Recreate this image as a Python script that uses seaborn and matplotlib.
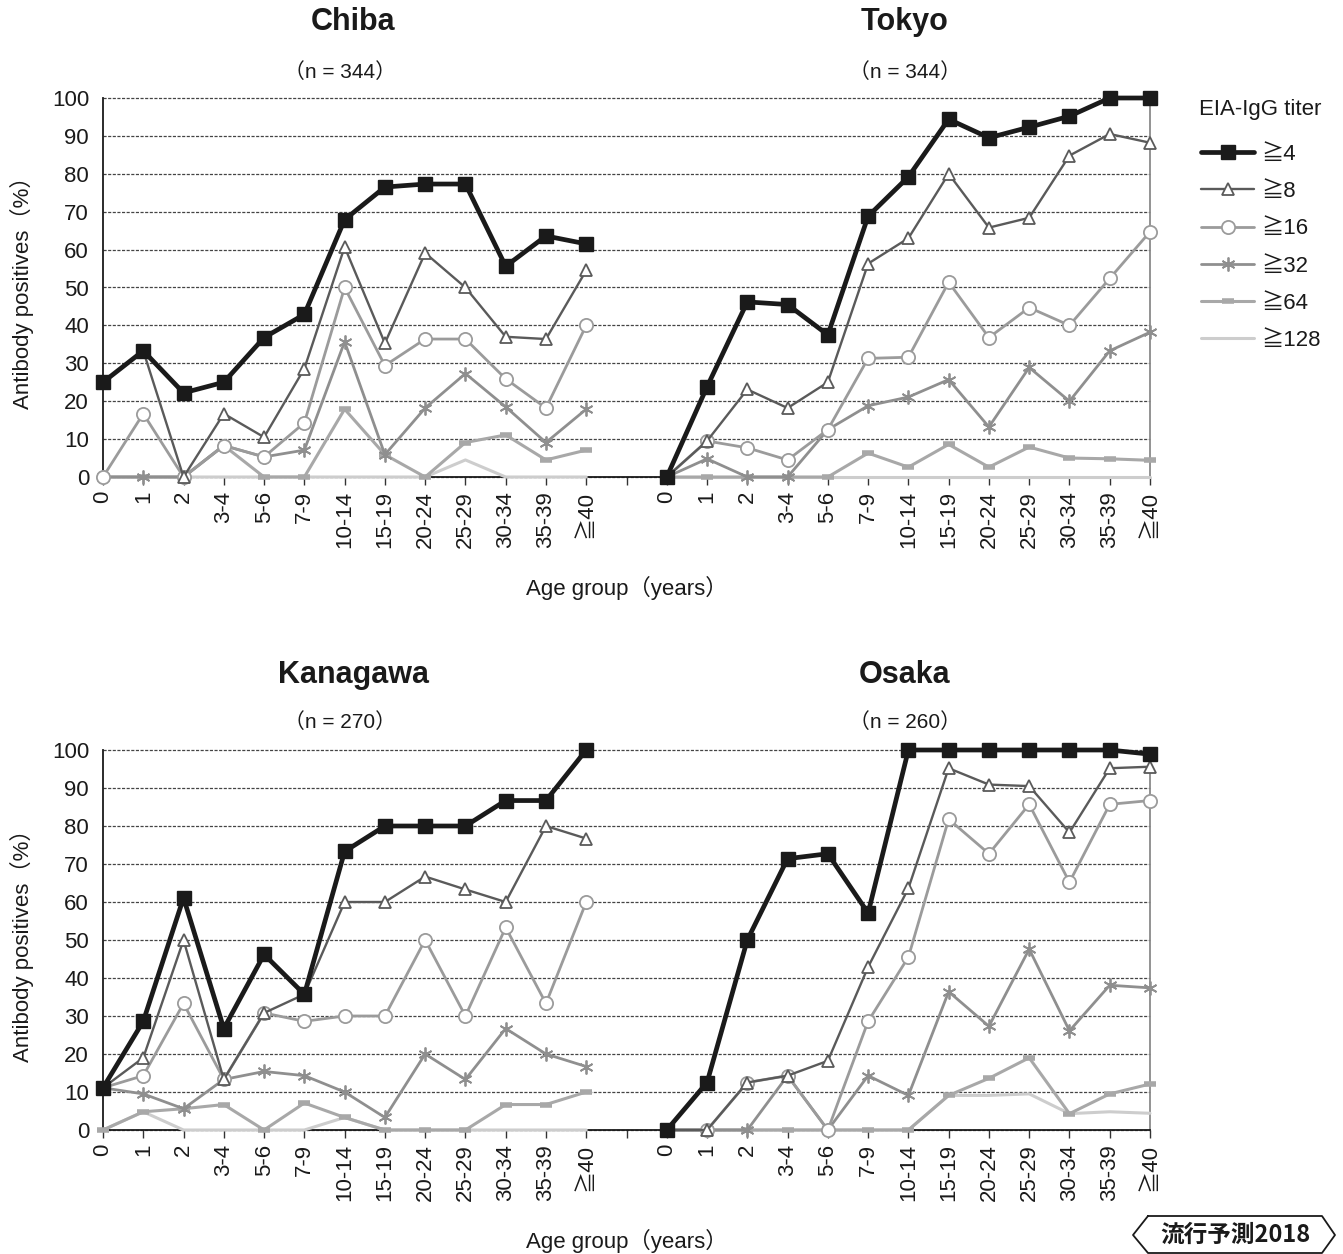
import matplotlib
matplotlib.use("Agg")
import matplotlib.pyplot as plt
import seaborn as sns
import numpy as np
import pandas as pd
from matplotlib.lines import Line2D

# ---------------- data ----------------
age_groups = ['0', '1', '2', '3-4', '5-6', '7-9', '10-14', '15-19',
              '20-24', '25-29', '30-34', '35-39', '≧40']
titers = ['≧4', '≧8', '≧16', '≧32', '≧64', '≧128']

chiba_4 = [25.0, 33.3, 22.2, 25.0, 36.8, 42.9, 67.9, 76.5, 77.3, 77.3, 55.6, 63.6, 61.5]
chiba_8 = [25.0, 33.3, 0.0, 16.7, 10.5, 28.6, 60.7, 35.3, 59.1, 50.0, 37.0, 36.4, 54.5]
chiba_16 = [0.0, 16.7, 0.0, 8.3, 5.3, 14.3, 50.0, 29.4, 36.4, 36.4, 25.9, 18.2, 40.0]
chiba_32 = [0.0, 0.0, 0.0, 8.3, 5.3, 7.1, 35.7, 5.9, 18.2, 27.3, 18.5, 9.1, 17.9]
chiba_64 = [0.0, 0.0, 0.0, 8.3, 0.0, 0.0, 17.9, 5.9, 0.0, 9.1, 11.1, 4.5, 7.1]
chiba_128 = [0.0, 0.0, 0.0, 0.0, 0.0, 0.0, 0.0, 0.0, 0.0, 4.5, 0.0, 0.0, 0.0]

tokyo_4 = [0.0, 23.8, 46.2, 45.5, 37.5, 68.8, 79.2, 94.4, 89.5, 92.3, 95.2, 100.0, 100.0]
tokyo_8 = [0.0, 9.5, 23.1, 18.2, 25.0, 56.3, 63.0, 80.0, 65.8, 68.4, 84.8, 90.5, 88.2]
tokyo_16 = [0.0, 9.5, 7.7, 4.5, 12.5, 31.3, 31.6, 51.4, 36.8, 44.7, 40.0, 52.4, 64.7]
tokyo_32 = [0.0, 4.8, 0.0, 0.0, 12.5, 18.8, 21.1, 25.7, 13.2, 28.9, 20.0, 33.3, 38.2]
tokyo_64 = [0.0, 0.0, 0.0, 0.0, 0.0, 6.3, 2.6, 8.6, 2.6, 7.9, 5.0, 4.8, 4.4]
tokyo_128 = [0.0, 0.0, 0.0, 0.0, 0.0, 0.0, 0.0, 0.0, 0.0, 0.0, 0.0, 0.0, 0.0]

kanagawa_4 = [11.1, 28.6, 61.1, 26.7, 46.2, 35.7, 73.3, 80.0, 80.0, 80.0, 86.7, 86.7, 100.0]
kanagawa_8 = [11.1, 19.0, 50.0, 13.3, 30.8, 35.7, 60.0, 60.0, 66.7, 63.3, 60.0, 80.0, 76.7]
kanagawa_16 = [11.1, 14.3, 33.3, 13.3, 30.8, 28.6, 30.0, 30.0, 50.0, 30.0, 53.3, 33.3, 60.0]
kanagawa_32 = [11.1, 9.5, 5.6, 13.3, 15.4, 14.3, 10.0, 3.3, 20.0, 13.3, 26.7, 20.0, 16.7]
kanagawa_64 = [0.0, 4.8, 5.6, 6.7, 0.0, 7.1, 3.3, 0.0, 0.0, 0.0, 6.7, 6.7, 10.0]
kanagawa_128 = [0.0, 4.8, 0.0, 0.0, 0.0, 0.0, 3.3, 0.0, 0.0, 0.0, 0.0, 0.0, 0.0]

osaka_4 = [0.0, 12.5, 50.0, 71.4, 72.7, 57.1, 100.0, 100.0, 100.0, 100.0, 100.0, 100.0, 98.9]
osaka_8 = [0.0, 0.0, 12.5, 14.3, 18.2, 42.9, 63.6, 95.2, 90.9, 90.5, 78.3, 95.2, 95.6]
osaka_16 = [0.0, 0.0, 12.5, 14.3, 0.0, 28.6, 45.5, 81.8, 72.7, 85.7, 65.2, 85.7, 86.7]
osaka_32 = [0.0, 0.0, 0.0, 14.3, 0.0, 14.3, 9.1, 36.4, 27.3, 47.6, 26.1, 38.1, 37.4]
osaka_64 = [0.0, 0.0, 0.0, 0.0, 0.0, 0.0, 0.0, 9.1, 13.6, 19.0, 4.3, 9.5, 12.1]
osaka_128 = [0.0, 0.0, 0.0, 0.0, 0.0, 0.0, 0.0, 9.1, 9.1, 9.5, 4.3, 4.8, 4.4]

regions = ['Chiba', 'Tokyo', 'Kanagawa', 'Osaka']
sample_sizes = [344, 344, 270, 260]

series = {
    'Chiba': [chiba_4, chiba_8, chiba_16, chiba_32, chiba_64, chiba_128],
    'Tokyo': [tokyo_4, tokyo_8, tokyo_16, tokyo_32, tokyo_64, tokyo_128],
    'Kanagawa': [kanagawa_4, kanagawa_8, kanagawa_16, kanagawa_32, kanagawa_64, kanagawa_128],
    'Osaka': [osaka_4, osaka_8, osaka_16, osaka_32, osaka_64, osaka_128],
}

# ---------------- style ----------------
sns.set_theme(style="white")
FAM = ['Liberation Sans', 'Noto Sans CJK JP', 'DejaVu Sans']
plt.rcParams['font.family'] = FAM
plt.rcParams['axes.unicode_minus'] = False

styles = {
    '≧4': dict(color='#1a1a1a', linewidth=3.4, marker='s', markersize=9.5,
               markerfacecolor='#1a1a1a', markeredgecolor='#1a1a1a', markeredgewidth=1.0, zorder=9),
    '≧8': dict(color='#5a5a5a', linewidth=1.7, marker='^', markersize=9,
               markerfacecolor='white', markeredgecolor='#5a5a5a', markeredgewidth=1.3, zorder=8),
    '≧16': dict(color='#9b9b9b', linewidth=2.0, marker='o', markersize=9.5,
                markerfacecolor='white', markeredgecolor='#9b9b9b', markeredgewidth=1.3, zorder=7),
    '≧32': dict(color='#8f8f8f', linewidth=2.0, marker=(6, 2, 0), markersize=10,
                markerfacecolor='none', markeredgecolor='#8f8f8f', markeredgewidth=1.3, zorder=6),
    '≧64': dict(color='#a8a8a8', linewidth=2.2, marker='_', markersize=8,
                markeredgecolor='#a8a8a8', markeredgewidth=4, zorder=5),
    '≧128': dict(color='#cdcdcd', linewidth=2.2, zorder=4),
}

W, H = 1343, 1254
fig = plt.figure(figsize=(W / 100, H / 100), dpi=100)


def fx(px):
    return px / W


def fy(py):
    return 1 - py / H


ax_left, ax_right = 103, 1150
rows = [(98, 477, 'Chiba', 'Tokyo'), (750, 1130, 'Kanagawa', 'Osaka')]

n_pos = 2 * len(age_groups) + 1
tick_labels = age_groups + [''] + age_groups

for top, bottom, left_reg, right_reg in rows:
    ax = fig.add_axes([fx(ax_left), fy(bottom), fx(ax_right) - fx(ax_left), (bottom - top) / H])
    ax.set_xlim(0, n_pos - 1)
    ax.set_ylim(0, 100)

    for offset, reg in [(0, left_reg), (len(age_groups) + 1, right_reg)]:
        pos = np.arange(len(age_groups)) + offset
        for t, vals in zip(titers, series[reg]):
            df = pd.DataFrame({'pos': pos, 'value': vals})
            sns.lineplot(data=df, x='pos', y='value', ax=ax, clip_on=False,
                         legend=False, **styles[t])

    ax.set_xticks(np.arange(n_pos))
    ax.set_xticklabels(tick_labels, rotation=90, fontsize=16)
    ax.set_yticks(np.arange(0, 101, 10))
    ax.set_yticklabels([str(v) for v in range(0, 101, 10)], fontsize=16)
    ax.tick_params(axis='x', direction='out', length=6, width=1, color='#333333', pad=4,
                   bottom=True, labelcolor='#1a1a1a')
    ax.tick_params(axis='y', length=0, pad=10, labelcolor='#1a1a1a')
    ax.set_xlabel('')
    ax.set_ylabel('')
    ax.yaxis.grid(True, linestyle=(0, (2.5, 1.2)), color='#444444', linewidth=0.9)
    ax.xaxis.grid(False)
    for gl in ax.get_ygridlines():
        gl.set_clip_on(False)
    ax.spines['top'].set_visible(False)
    ax.spines['left'].set_color('#1a1a1a')
    ax.spines['left'].set_linewidth(1.3)
    ax.spines['bottom'].set_color('#1a1a1a')
    ax.spines['bottom'].set_linewidth(1.3)
    ax.spines['right'].set_color('#8a8a8a')
    ax.spines['right'].set_linewidth(1.3)
    ax.set_facecolor('white')

    # y label
    fig.text(fx(22), fy((top + bottom) / 2), 'Antibody positives（%）', rotation=90,
             ha='center', va='center', fontsize=16, color='#1a1a1a', family=FAM)
    # x label
    fig.text(fx(627), fy(bottom + 111), 'Age group（years）', ha='center', va='center',
             fontsize=16, color='#1a1a1a', family=FAM)

# titles
title_info = [('Chiba', 344, 353, 22, 72), ('Tokyo', 344, 905, 22, 72),
              ('Kanagawa', 270, 353, 675, 722), ('Osaka', 260, 905, 675, 722)]
for name, n, cx, ty, ny in title_info:
    fig.text(fx(cx), fy(ty), name, ha='center', va='center', fontsize=22,
             fontweight='bold', color='#1a1a1a', family=FAM)
    fig.text(fx(cx - 13 if name in ('Chiba', 'Kanagawa') else cx), fy(ny), f'（n = {n}）',
             ha='center', va='center', fontsize=15, color='#1a1a1a', family=FAM)

# legend
handles = []
for t in titers:
    st = dict(styles[t])
    st.pop('zorder')
    handles.append(Line2D([0], [0], **st))
fig.text(fx(1260), fy(109), 'EIA-IgG titer', ha='center', va='center', fontsize=16,
         color='#1a1a1a', family=FAM)
leg = fig.legend(handles, titers, loc='upper left', bbox_to_anchor=(fx(1181), fy(124)),
                 frameon=False, fontsize=16,
                 handlelength=2.4, handletextpad=0.3, labelspacing=0.73)
for txt in leg.get_texts():
    txt.set_color('#1a1a1a')

# logo
logo_x = [1148, 1322, 1335, 1322, 1148, 1133, 1148]
logo_y = [1216, 1216, 1235, 1253, 1253, 1235, 1216]
fig.add_artist(Line2D([fx(v) for v in logo_x], [fy(v) for v in logo_y],
                      color='#1a1a1a', linewidth=1.3, transform=fig.transFigure))
fig.text(fx(1235), fy(1235), '流行予測2018', ha='center', va='center', fontsize=17,
         fontweight='bold', color='#1a1a1a', family=['Noto Sans CJK JP', 'DejaVu Sans'])

fig.savefig('out.png', dpi=100, facecolor='white')
